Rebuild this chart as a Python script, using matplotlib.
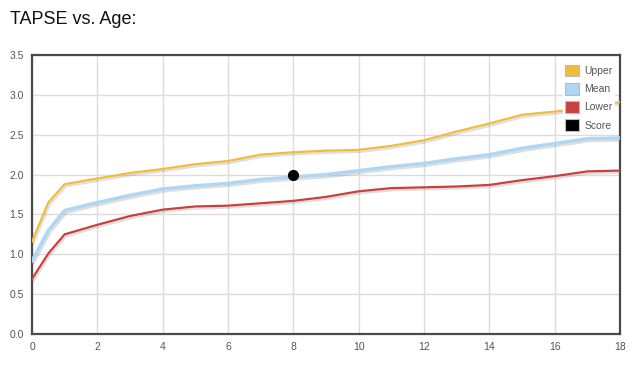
import matplotlib.pyplot as plt
import matplotlib.patheffects as pe
from matplotlib.patches import Patch

# ages (years) and TAPSE reference values (cm)
age = [0, 0.5, 1, 2, 3, 4, 5, 6, 7, 8, 9, 10, 11, 12, 13, 14, 15, 16, 17, 18]
upper = [1.16, 1.65, 1.88, 1.95, 2.02, 2.07, 2.13, 2.17, 2.25, 2.28, 2.30,
         2.31, 2.36, 2.43, 2.54, 2.64, 2.75, 2.79, 2.84, 2.91]
mean = [0.92, 1.30, 1.55, 1.65, 1.74, 1.82, 1.86, 1.89, 1.94, 1.97, 2.00,
        2.05, 2.10, 2.14, 2.20, 2.25, 2.33, 2.39, 2.45, 2.46]
lower = [0.69, 1.01, 1.25, 1.37, 1.48, 1.56, 1.60, 1.61, 1.64, 1.67, 1.72,
         1.79, 1.83, 1.84, 1.85, 1.87, 1.93, 1.98, 2.04, 2.05]
score_age = [8]
score = [2.0]

labels = ['Upper', 'Mean', 'Lower', 'Score']
colors = ['#efbd3c', '#aed6f5', '#c8413f', '#000000']

plt.rcParams['font.family'] = ['Liberation Sans', 'DejaVu Sans']

fig = plt.figure(figsize=(6.4, 3.69), dpi=100)
ax = fig.add_axes([32 / 640, 35 / 369, 588 / 640, 279 / 369])

shadow = [pe.SimpleLineShadow(offset=(1, -1.5), alpha=0.25, shadow_color='gray'),
          pe.Normal()]
ax.plot(age, upper, color=colors[0], lw=1.6, path_effects=shadow, zorder=3)
ax.plot(age, mean, color=colors[1], lw=2.4, path_effects=shadow, zorder=3)
ax.plot(age, lower, color=colors[2], lw=1.6, path_effects=shadow, zorder=3)
ax.plot(score_age, score, 'o', color=colors[3], ms=7, zorder=5)

ax.set_xlim(0, 18)
ax.set_ylim(0, 3.5)
ax.set_xticks(range(0, 19, 2))
ax.set_yticks([i * 0.5 for i in range(8)])
ax.set_yticklabels([f'{i * 0.5:.1f}' for i in range(8)])
ax.grid(color='#dcdcdc', lw=1)
ax.set_axisbelow(True)
ax.tick_params(length=0, labelsize=7.5, labelcolor='#555555', pad=6)
for s in ax.spines.values():
    s.set_color('#4a4a4a')
    s.set_linewidth(1.6)

handles = [Patch(facecolor=c, edgecolor='#bbbbbb', lw=0.8) for c in colors]
leg = ax.legend(handles, labels, loc='upper right', fontsize=7.5,
                frameon=True, facecolor='white', edgecolor='none', framealpha=1,
                handlelength=1.4, handleheight=1.3, handletextpad=0.5,
                labelspacing=0.65, borderpad=0.2, bbox_to_anchor=(1.0, 0.99))
leg.set_zorder(10)
for t in leg.get_texts():
    t.set_color('#555555')

fig.text(10 / 640, 1 - 20 / 369, 'TAPSE vs. Age:', fontsize=13, va='center',
         color='#111111')

fig.savefig('out.png', dpi=100)
